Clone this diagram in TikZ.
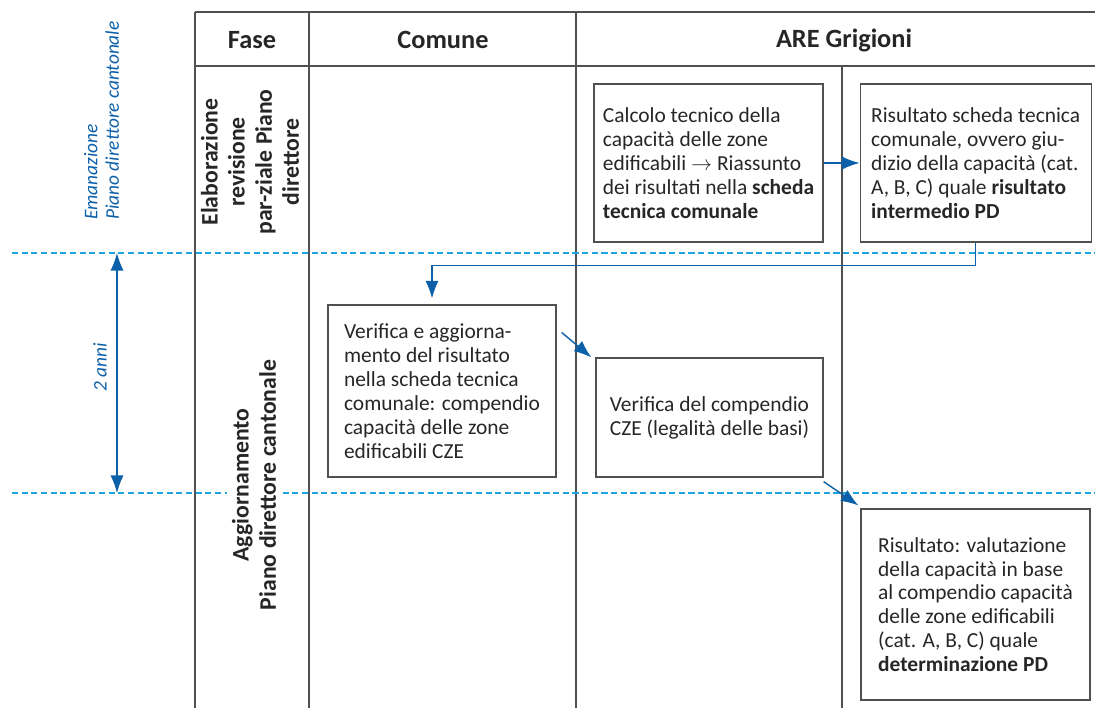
\documentclass[tikz,border=0pt]{standalone}
\usepackage{fontspec}
\setmainfont{Carlito}
\usepackage{tikz}
\usetikzlibrary{arrows.meta,positioning}

\definecolor{flowblue}{RGB}{12,96,170}
\definecolor{lineblue}{RGB}{30,165,225}
\definecolor{rulegray}{RGB}{80,80,80}

\begin{document}
\begin{tikzpicture}[x=0.02cm,y=-0.02cm,>={Latex[length=10pt,width=7.5pt]},
  box node/.style={rectangle,draw=rulegray,line width=0.7pt,align=left,inner sep=0pt,
    text=black!85,font=\fontsize{12.2}{13.6}\selectfont},
  flow/.style={->,draw=flowblue,line width=0.8pt},
  rule/.style={draw=rulegray,line width=0.7pt},
  time line/.style={draw=lineblue,line width=0.7pt,dash pattern=on 3.5pt off 2pt},
  head/.style={text=black!85,font=\fontsize{15}{18}\selectfont\bfseries},
  phase/.style={rotate=90,align=center,text=black!85,font=\fontsize{13.5}{15.4}\selectfont\bfseries},
  note/.style={rotate=90,text=flowblue,font=\fontsize{11}{12.2}\selectfont\itshape}]

  \useasboundingbox (0,0) rectangle (1095,708);

  % table
  \draw[rule] (195,12) -- (1095,12);
  \draw[rule] (195,66) -- (1095,66);
  \foreach \x in {195,309,576}
    \draw[rule] (\x,12) -- (\x,708);
  \draw[rule] (842,66) -- (842,708);

  % time lines
  \draw[time line] (12,253) -- (1095,253);
  \draw[time line] (12,493) -- (1095,493);

  \node[head] (fase) at (252,40) {Fase};
  \node[head] (comune) at (443,40) {Comune};
  \node[head] (are) at (844,40) {ARE Grigioni};

  \node[phase] (elab) at (250,162) {Elaborazione\\revisione\\par-ziale Piano\\direttore};
  \node[phase,fill=white,inner sep=3pt] (agg) at (254,485) {Aggiornamento\\Piano direttore cantonale};

  \node[note,align=left] (eman) at (101.5,120.5) {Emanazione\\Piano direttore cantonale};
  \node[note] (anni) at (100,367) {2 anni};
  \coordinate (t0) at (117,253);
  \coordinate (t1) at (117,493);
  \draw[flow,<->] (t0) -- (t1);

  % boxes
  \node[box node,minimum width=4.58cm,minimum height=3.16cm] (calc) at (708.5,163)
    {Calcolo tecnico della\\capacità delle zone\\edificabili $\rightarrow$ Riassunto\\dei risultati nella \textbf{scheda}\\\textbf{tecnica comunale}};
  \node[box node,minimum width=4.62cm,minimum height=3.16cm] (ris) [right=0.72cm of calc]
    {Risultato scheda tecnica\\comunale, ovvero giu-\\dizio della capacità (cat.\\A, B, C) quale \textbf{risultato}\\\textbf{intermedio PD}};
  \node[box node,minimum width=4.56cm,minimum height=3.44cm] (ver) at (442,391)
    {Verifica e aggiorna-\\mento del risultato\\nella scheda tecnica\\comunale: compendio\\capacità delle zone\\edificabili CZE};
  \node[box node,minimum width=4.54cm,minimum height=2.38cm] (cze) at (709.5,417.5)
    {Verifica del compendio\\CZE (legalità delle basi)};
  \node[box node,minimum width=4.58cm,minimum height=3.82cm] (det) at (975.5,604.5)
    {Risultato: valutazione\\della capacità in base\\al compendio capacità\\delle zone edificabili\\(cat. A, B, C) quale\\\textbf{determinazione PD}};

  % flow
  \draw[flow] (calc) -- (ris);
  \draw[flow] (ris.south) -- ++(0,23) -| ([shift={(-10,-6)}]ver.north);
  \draw[flow] ([shift={(5,28)}]ver.north east) -- ([shift={(-4,0)}]cze.north west);
  \draw[flow] ([shift={(0,4)}]cze.south east) -- ([shift={(-2,-3)}]det.north west);

\end{tikzpicture}
\end{document}
